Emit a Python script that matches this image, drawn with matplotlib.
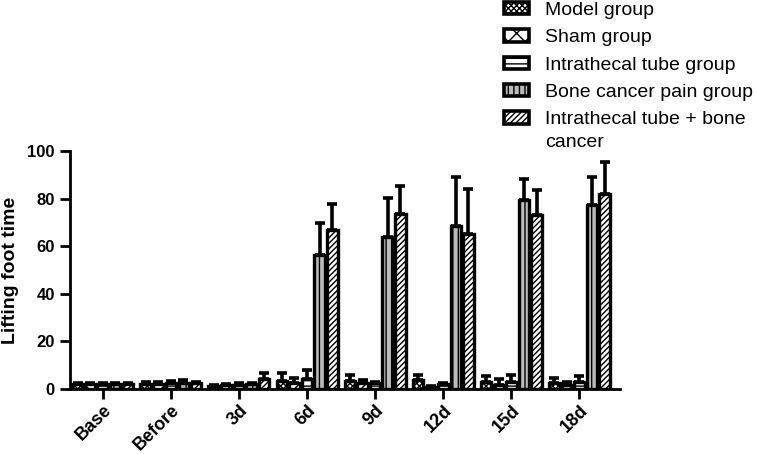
import numpy as np
import matplotlib
matplotlib.use('Agg')
import matplotlib.pyplot as plt

plt.rcParams['font.family'] = ['Liberation Sans', 'DejaVu Sans']
plt.rcParams['hatch.linewidth'] = 1.0

#------------------------------------------------------------------------------
# DATA
days = ['Base', 'Before', '3d', '6d', '9d', '12d', '15d', '18d']
groups = ['Model group', 'Sham group', 'Intrathecal tube group',
          'Bone cancer pain group', 'Intrathecal tube + bone']

model_mean = [2.0, 2.2, 1.2, 3.4, 3.2, 3.8, 2.8, 2.5]
model_sd   = [0.5, 0.6, 0.6, 3.2, 2.6, 2.0, 2.6, 2.0]
sham_mean  = [2.0, 2.3, 1.6, 2.7, 2.6, 1.0, 1.8, 1.8]
sham_sd    = [0.5, 0.6, 0.7, 2.1, 1.4, 0.5, 2.6, 1.2]
tube_mean  = [2.0, 2.4, 1.8, 4.1, 2.6, 2.2, 2.8, 3.0]
tube_sd    = [0.5, 1.2, 0.7, 3.9, 0.4, 0.5, 3.2, 2.6]
bcp_mean   = [2.0, 2.6, 2.0, 56.5, 64.0, 68.5, 79.3, 77.3]
bcp_sd     = [0.5, 1.2, 0.7, 13.5, 16.5, 20.5, 9.2, 11.7]
both_mean  = [2.0, 2.4, 4.3, 66.8, 73.5, 65.0, 73.0, 82.2]
both_sd    = [0.5, 0.7, 2.5, 10.9, 11.9, 19.3, 10.6, 13.3]

means = [model_mean, sham_mean, tube_mean, bcp_mean, both_mean]
sds = [model_sd, sham_sd, tube_sd, bcp_sd, both_sd]
hatches = ['xxxxxx', 'xx', '---', '|||', '//////']
fills = ['white', 'white', 'white', '#bbbbbb', 'white']

#------------------------------------------------------------------------------
# PLOT THE GRAPH
fig = plt.figure(figsize=(7.57, 4.54), dpi=100)
ax = fig.add_axes([0.0925, 0.143, 0.727, 0.524])

x = np.arange(len(days))
step = 0.185
width = 0.155
for i in range(5):
    pos = x + (i - 2) * step
    ax.bar(pos, means[i], width, color=fills[i], edgecolor='black', linewidth=2.4,
           hatch=hatches[i], label=groups[i], zorder=3)
    ax.errorbar(pos, means[i], yerr=[np.zeros(len(days)), sds[i]], fmt='none',
                ecolor='black', elinewidth=2.6, capsize=3.5, capthick=2.6, zorder=2)

# Format axes
ax.set_xlim(-0.48, 7.6)
ax.set_ylim(0, 100)
ax.set_yticks([0, 20, 40, 60, 80, 100])
ax.set_xticks(x)
ax.set_xticklabels(days, rotation=45, ha='right', rotation_mode='anchor')
ax.spines['top'].set_visible(False)
ax.spines['right'].set_visible(False)
ax.spines['left'].set_linewidth(2)
ax.spines['bottom'].set_linewidth(2)
ax.tick_params(axis='both', width=2, length=7)
ax.tick_params(axis='y', labelsize=12, pad=4)
ax.tick_params(axis='x', labelsize=13, pad=2)
for lab in ax.get_xticklabels() + ax.get_yticklabels():
    lab.set_fontweight('bold')
ax.set_ylabel('Lifting foot time', fontsize=14, fontweight='bold', labelpad=6)

# Legend
leg = fig.legend(loc='upper left', bbox_to_anchor=(0.643, 1.034), frameon=False,
                 fontsize=14, handlelength=1.25, handleheight=0.6,
                 labelspacing=0.53, handletextpad=0.85, borderpad=0.4)
for h in leg.legend_handles:
    h.set_linewidth(2.6)

# second line of the last legend label
fig.canvas.draw()
bb = leg.get_texts()[-1].get_window_extent()
fig.text(bb.x0 / fig.bbox.width, (bb.y0 - 23) / fig.bbox.height, 'cancer',
         fontsize=14, ha='left', va='bottom')

fig.savefig('out.png', dpi=100)
